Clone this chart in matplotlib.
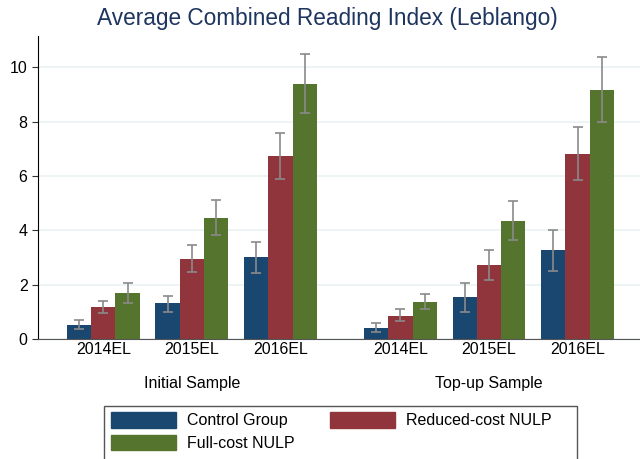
import numpy as np
import matplotlib.pyplot as plt
from matplotlib.patches import Patch, Rectangle

plt.rcParams['font.family'] = ['Liberation Sans', 'DejaVu Sans']

# data
waves = ['2014EL', '2015EL', '2016EL']
samples = ['Initial Sample', 'Top-up Sample']
groups = ['Control Group', 'Reduced-cost NULP', 'Full-cost NULP']
colors = ['#1a476f', '#90353b', '#55752f']

# rows = group, cols = 2014/2015/2016 initial then top-up
means = [
    [0.53, 1.31, 3.00, 0.42, 1.53, 3.26],
    [1.17, 2.95, 6.72, 0.86, 2.71, 6.82],
    [1.68, 4.47, 9.40, 1.37, 4.36, 9.17],
]
ci_low = [
    [0.38, 1.00, 2.44, 0.26, 0.98, 2.49],
    [0.94, 2.45, 5.87, 0.66, 2.17, 5.84],
    [1.31, 3.82, 8.30, 1.09, 3.63, 8.00],
]
ci_high = [
    [0.70, 1.59, 3.57, 0.58, 2.06, 4.02],
    [1.39, 3.46, 7.57, 1.09, 3.26, 7.79],
    [2.06, 5.13, 10.50, 1.64, 5.07, 10.37],
]

centers = np.array([0, 1, 2, 3.355, 4.355, 5.355])
width = 0.274

fig = plt.figure(figsize=(6.4, 4.59), dpi=100)
ax = fig.add_axes([38 / 640, 1 - 339 / 459, 602 / 640, 303 / 459])

for i in range(3):
    x = centers + (i - 1) * width
    m = np.array(means[i])
    lo = m - np.array(ci_low[i])
    hi = np.array(ci_high[i]) - m
    ax.bar(x, m, width=width, color=colors[i], zorder=2)
    ax.errorbar(x, m, yerr=[lo, hi], fmt='none', ecolor='#8a8a8a',
                elinewidth=1.2, capsize=3.5, capthick=1.2, zorder=3)

ax.set_xlim(-0.737, 6.06)
ax.set_ylim(0, 11.15)
ax.set_yticks([0, 2, 4, 6, 8, 10])
ax.yaxis.grid(True, color='#eaf2f3', linewidth=1.2, zorder=0)
ax.set_axisbelow(True)
ax.set_xticks(centers)
ax.set_xticklabels(waves * 2)
ax.tick_params(axis='x', length=0, pad=2, labelsize=11.5)
ax.tick_params(axis='y', length=4, labelsize=11.5, color='#333333')
for s in ['top', 'right']:
    ax.spines[s].set_visible(False)
ax.spines['left'].set_color('black')
ax.spines['bottom'].set_color('#555555')

for j, s in enumerate(samples):
    ax.text(centers[3 * j + 1], -1.62, s, ha='center', va='center', fontsize=11.5)

fig.suptitle('Average Combined Reading Index (Leblango)', x=0.512, y=0.985,
             fontsize=16.3, color='#1e3560')

# legend: row-major order, frame drawn separately
handles = [Patch(color=colors[0], label=groups[0]),
           Patch(color=colors[2], label=groups[2]),
           Patch(color=colors[1], label=groups[1])]
fig.legend(handles=handles, ncol=2,
           bbox_to_anchor=(104.3 / 640, 1 - 405.7 / 459),
           loc='upper left', fontsize=11.5, handlelength=4.09,
           handleheight=1.13, frameon=False,
           borderpad=0.4, labelspacing=0.4, handletextpad=0.67,
           columnspacing=2.22, borderaxespad=0)
fig.patches.append(Rectangle((104.3 / 640, -0.02), 472.4 / 640,
                             1 - 405.7 / 459 + 0.02, transform=fig.transFigure,
                             fill=False, edgecolor='#555555', linewidth=1.0))

fig.savefig('out.png', dpi=100)
